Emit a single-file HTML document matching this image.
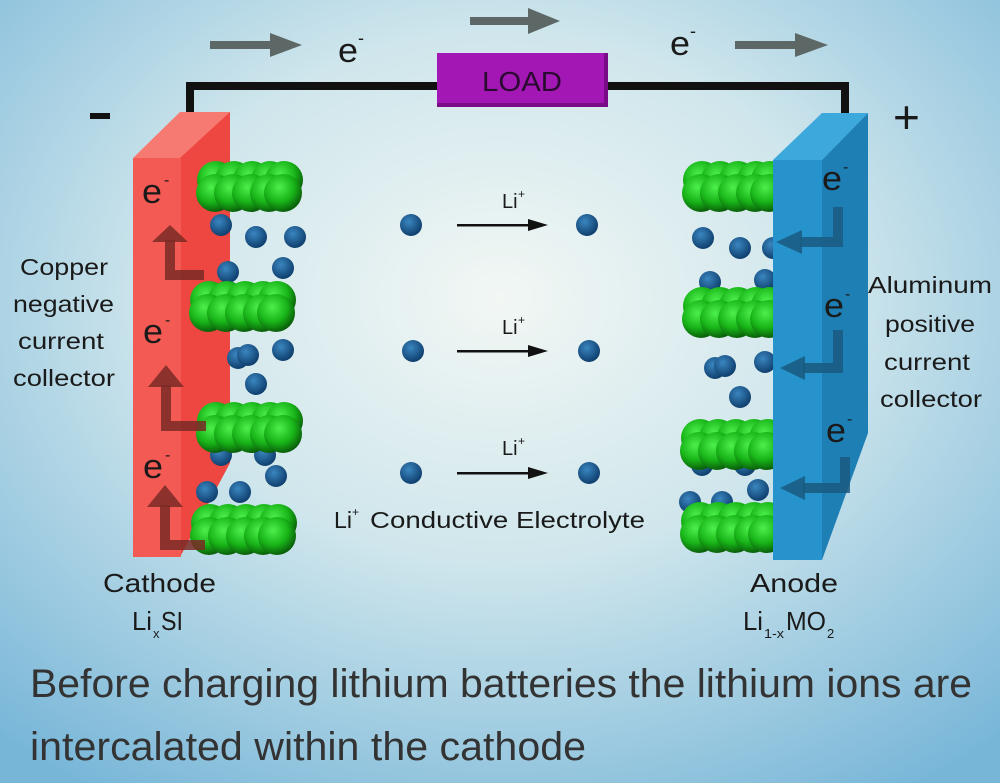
<!DOCTYPE html>
<html><head><meta charset="utf-8"><style>
html,body{margin:0;padding:0;width:1000px;height:783px;overflow:hidden}
svg text{font-family:"Liberation Sans",sans-serif;fill:#1a1a1a}
</style></head><body>
<svg width="1000" height="783" viewBox="0 0 1000 783" xmlns="http://www.w3.org/2000/svg">
<defs>
<radialGradient id="bg" cx="0.5" cy="0.38" r="0.75">
<stop offset="0" stop-color="#f2f7f4"/><stop offset="0.45" stop-color="#cfe6ec"/><stop offset="1" stop-color="#78b6d8"/>
</radialGradient>
<radialGradient id="gr" cx="0.4" cy="0.35" r="0.65">
<stop offset="0" stop-color="#4cf04c"/><stop offset="0.6" stop-color="#18b418"/><stop offset="1" stop-color="#0a600a"/>
</radialGradient>
<radialGradient id="bl" cx="0.4" cy="0.35" r="0.65">
<stop offset="0" stop-color="#3a86c0"/><stop offset="1" stop-color="#0f3f6e"/>
</radialGradient>
<g id="cl">
<circle cx="20" cy="18" r="19" fill="url(#gr)"/><circle cx="38" cy="18" r="19" fill="url(#gr)"/><circle cx="56" cy="18" r="19" fill="url(#gr)"/><circle cx="74" cy="18" r="19" fill="url(#gr)"/><circle cx="88" cy="18" r="19" fill="url(#gr)"/>
<circle cx="19" cy="31" r="19" fill="url(#gr)"/><circle cx="37" cy="31" r="19" fill="url(#gr)"/><circle cx="55" cy="31" r="19" fill="url(#gr)"/><circle cx="73" cy="31" r="19" fill="url(#gr)"/><circle cx="87" cy="31" r="19" fill="url(#gr)"/>
</g>
<circle id="d" r="11" fill="url(#bl)"/>
</defs>
<rect width="1000" height="783" fill="url(#bg)"/>

<!-- wire -->
<path d="M190 112 V86 H845 V113" fill="none" stroke="#111" stroke-width="8"/>
<rect x="437" y="53" width="171" height="54" fill="#7a0c88"/>
<rect x="437" y="53" width="167" height="50" fill="#a318b4"/>
<text x="522" y="91" font-size="28" text-anchor="middle" fill="#2a0a30" style="fill:#2a0a30" textLength="80" lengthAdjust="spacingAndGlyphs">LOAD</text>
<rect x="210" y="41" width="62" height="8" fill="#5d6866"/><polygon points="270,33 302,45 270,57" fill="#5d6866"/>
<rect x="470" y="17" width="60" height="8" fill="#5d6866"/><polygon points="528,8 560,21 528,34" fill="#5d6866"/>
<rect x="735" y="41" width="62" height="8" fill="#5d6866"/><polygon points="795,33 828,45 795,57" fill="#5d6866"/>
<text x="338" y="62" font-size="34" textLength="20" lengthAdjust="spacingAndGlyphs">e</text><text x="358" y="44" font-size="18">-</text>
<text x="670" y="55" font-size="34" textLength="20" lengthAdjust="spacingAndGlyphs">e</text><text x="690" y="37" font-size="18">-</text>
<rect x="90" y="113" width="20" height="6" fill="#111"/>
<text x="893" y="133" font-size="46" fill="#111">+</text>

<!-- left electrode -->
<polygon points="133,158 180,112 230,112 183,158" fill="#f77a72"/>
<polygon points="180,158 230,112 230,463 180,557" fill="#ee4640"/>
<rect x="133" y="158" width="48" height="399" fill="#f45a54"/>

<!-- left particles -->
<use href="#d" x="221" y="225"/><use href="#d" x="256" y="237"/><use href="#d" x="295" y="237"/>
<use href="#d" x="228" y="272"/><use href="#d" x="283" y="268"/>
<use href="#cl" x="196" y="162"/>
<use href="#cl" x="189" y="282"/>
<use href="#d" x="238" y="358"/><use href="#d" x="248" y="355"/><use href="#d" x="283" y="350"/><use href="#d" x="256" y="384"/>
<use href="#d" x="221" y="455"/><use href="#d" x="265" y="455"/>
<use href="#cl" x="196" y="403"/>
<use href="#d" x="207" y="492"/><use href="#d" x="240" y="492"/><use href="#d" x="276" y="476"/>
<use href="#cl" x="190" y="505"/>

<!-- left arrows -->
<g fill="none" stroke="#7a2a26" stroke-width="10" opacity="0.85">
<path d="M204 275 H170 V240"/><path d="M206 426 H166 V385"/><path d="M205 545 H165 V505"/>
</g>
<g fill="#7a2a26" opacity="0.85"><polygon points="152,242 170,225 188,242"/><polygon points="148,387 166,365 184,387"/><polygon points="147,507 165,485 183,507"/></g>
<g font-size="34"><text x="142" y="203" textLength="20" lengthAdjust="spacingAndGlyphs">e</text><text x="143" y="343" textLength="20" lengthAdjust="spacingAndGlyphs">e</text><text x="143" y="478" textLength="20" lengthAdjust="spacingAndGlyphs">e</text></g>
<g font-size="16"><text x="164" y="185">-</text><text x="165" y="325">-</text><text x="165" y="460">-</text></g>

<!-- right particles -->
<use href="#d" x="703" y="238"/><use href="#d" x="740" y="248"/><use href="#d" x="773" y="248"/>
<use href="#d" x="710" y="282"/><use href="#d" x="765" y="280"/>
<use href="#d" x="715" y="368"/><use href="#d" x="725" y="366"/><use href="#d" x="765" y="362"/><use href="#d" x="740" y="397"/>
<use href="#d" x="702" y="465"/><use href="#d" x="745" y="465"/><use href="#d" x="758" y="490"/>
<use href="#d" x="690" y="502"/><use href="#d" x="722" y="502"/>
<use href="#cl" x="682" y="162"/>
<use href="#cl" x="682" y="288"/>
<use href="#cl" x="680" y="420"/>
<use href="#cl" x="680" y="503"/>

<!-- right electrode -->
<polygon points="773,160 822,113 868,113 822,160" fill="#3ca8dc"/>
<polygon points="822,160 868,113 868,433 822,560" fill="#1e7fb4"/>
<rect x="773" y="160" width="49" height="400" fill="#2693cc"/>
<g fill="none" stroke="#1a5a80" stroke-width="10" opacity="0.85">
<path d="M838 207 V242 H800"/><path d="M838 330 V368 H803"/><path d="M845 457 V488 H803"/>
</g>
<g fill="#1a5a80" opacity="0.85"><polygon points="802,230 776,242 802,254"/><polygon points="805,356 780,368 805,380"/><polygon points="805,476 780,488 805,500"/></g>
<g font-size="34"><text x="822" y="190" textLength="20" lengthAdjust="spacingAndGlyphs">e</text><text x="824" y="317" textLength="20" lengthAdjust="spacingAndGlyphs">e</text><text x="826" y="442" textLength="20" lengthAdjust="spacingAndGlyphs">e</text></g>
<g font-size="16"><text x="843" y="172">-</text><text x="845" y="299">-</text><text x="847" y="424">-</text></g>

<!-- electrolyte -->
<use href="#d" x="411" y="225"/><use href="#d" x="587" y="225"/>
<use href="#d" x="413" y="351"/><use href="#d" x="589" y="351"/>
<use href="#d" x="411" y="473"/><use href="#d" x="589" y="473"/>
<g fill="#111">
<rect x="457" y="224" width="74" height="2.5"/><polygon points="528,219 548,225 528,231"/>
<rect x="457" y="350" width="74" height="2.5"/><polygon points="528,345 548,351 528,357"/>
<rect x="457" y="472" width="74" height="2.5"/><polygon points="528,467 548,473 528,479"/>
</g>
<g font-size="20"><text x="502" y="208">Li</text><text x="502" y="334">Li</text><text x="502" y="455">Li</text></g>
<g font-size="12"><text x="518" y="198">+</text><text x="518" y="324">+</text><text x="518" y="445">+</text></g>
<text x="334" y="528" font-size="23" textLength="18" lengthAdjust="spacingAndGlyphs">Li</text><text x="352" y="516" font-size="12">+</text>
<text x="370" y="528" font-size="23" textLength="275" lengthAdjust="spacingAndGlyphs">Conductive Electrolyte</text>

<!-- side labels -->
<g font-size="23">
<text x="20" y="275" textLength="88" lengthAdjust="spacingAndGlyphs">Copper</text>
<text x="13" y="312" textLength="101" lengthAdjust="spacingAndGlyphs">negative</text>
<text x="18" y="349" textLength="86" lengthAdjust="spacingAndGlyphs">current</text>
<text x="13" y="386" textLength="102" lengthAdjust="spacingAndGlyphs">collector</text>
<text x="868" y="293" textLength="124" lengthAdjust="spacingAndGlyphs">Aluminum</text>
<text x="885" y="332" textLength="90" lengthAdjust="spacingAndGlyphs">positive</text>
<text x="884" y="370" textLength="86" lengthAdjust="spacingAndGlyphs">current</text>
<text x="880" y="407" textLength="102" lengthAdjust="spacingAndGlyphs">collector</text>
</g>

<!-- bottom labels -->
<text x="103" y="592" font-size="26" textLength="113" lengthAdjust="spacingAndGlyphs">Cathode</text>
<text x="132" y="630" font-size="26" textLength="20" lengthAdjust="spacingAndGlyphs">Li</text><text x="153" y="638" font-size="13">x</text><text x="161" y="630" font-size="26" textLength="22" lengthAdjust="spacingAndGlyphs">SI</text>
<text x="750" y="592" font-size="26" textLength="88" lengthAdjust="spacingAndGlyphs">Anode</text>
<text x="743" y="630" font-size="26" textLength="20" lengthAdjust="spacingAndGlyphs">Li</text><text x="764" y="638" font-size="13" textLength="20" lengthAdjust="spacingAndGlyphs">1-x</text><text x="786" y="630" font-size="26" textLength="40" lengthAdjust="spacingAndGlyphs">MO</text><text x="827" y="638" font-size="13">2</text>

<text x="30" y="697" font-size="40" style="fill:#333" textLength="942" lengthAdjust="spacingAndGlyphs">Before charging lithium batteries the lithium ions are</text>
<text x="30" y="760" font-size="40" style="fill:#333" textLength="556" lengthAdjust="spacingAndGlyphs">intercalated within the cathode</text>
</svg>
</body></html>
